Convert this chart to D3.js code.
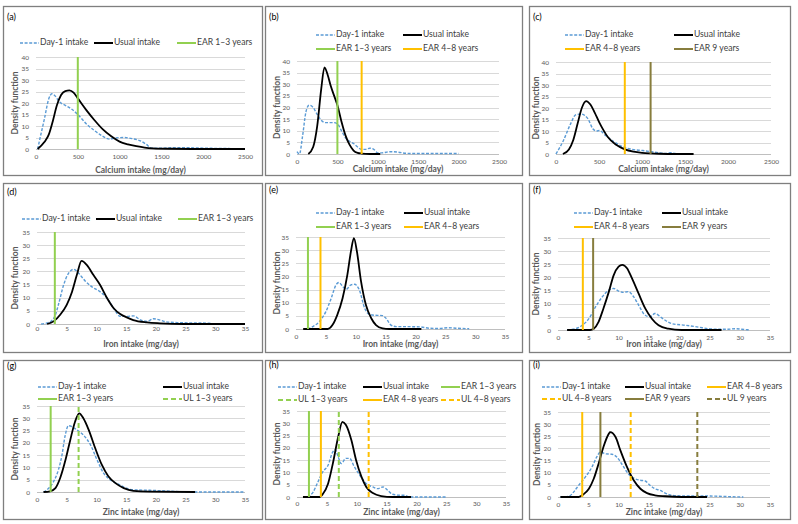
<!DOCTYPE html>
<html><head><meta charset="utf-8">
<script src="https://cdn.jsdelivr.net/npm/d3@7"></script>
<style>
html,body{margin:0;padding:0;background:#fff;}
svg{display:block;font-family:Lato,"Open Sans",sans-serif;}
</style></head>
<body><svg id="c" width="798" height="524"></svg>
<script>
// ---------- tick labels ----------
const calciumTicks = [0, 500, 1000, 1500, 2000, 2500];
const mgTicks = [0, 5, 10, 15, 20, 25, 30, 35];
const density40Ticks = [0, 5, 10, 15, 20, 25, 30, 35, 40];
const density35Ticks = [0, 5, 10, 15, 20, 25, 30, 35];

// ---------- (a) calcium ----------
const aDay1 = [[20,0],[50,5],[100,13],[150,21.5],[190,24],[230,23],[280,20.5],[350,19],[420,17.5],[500,15],[600,11],[700,8],[800,5.5],[880,4.3],[950,4.8],[1050,5],[1150,4.5],[1250,3.5],[1320,2],[1380,0.4],[1500,0.3],[1650,0.6],[1900,0.5],[2100,0.3],[2300,0.2],[2400,0]];
const aUsual = [[20,0],[100,3],[150,6],[200,12],[250,19],[300,23.5],[350,25.2],[400,25.5],[450,24.5],[500,22],[600,17],[700,12.5],[800,8.5],[900,5.5],[1000,3.2],[1100,2],[1200,1.2],[1300,0.6],[1400,0.3],[1600,0.1],[2000,0],[2500,0]];
// ---------- (b) ----------
const bDay1 = [[0,1],[30,0],[70,8],[110,18],[150,21],[200,20],[250,17],[300,14.5],[350,13.5],[400,13.5],[450,13.5],[500,13],[550,10],[600,7],[650,5.5],[700,4.5],[750,3],[800,2],[850,2],[900,2.5],[950,2],[1000,0.5],[1050,0.5],[1150,1],[1250,0.8],[1350,0.3],[1500,0.2],[1750,0.2],[2000,0.2]];
const bUsual = [[140,0],[200,3],[250,12],[300,28],[340,37.3],[380,34],[420,29],[460,25],[500,21],[550,14],[600,8],[650,4],[700,1.5],[750,0.5],[800,0.2],[900,0],[1030,0]];
// ---------- (c) ----------
const cDay1 = [[0,0],[88,6],[168,13],[228,17],[288,17.4],[368,15.5],[428,11],[468,10],[508,10.2],[568,8.3],[668,5.5],[768,3.3],[888,2],[1008,1.5],[1108,1],[1208,0.5],[1288,0.2],[1328,0.6],[1388,0.2],[1420,0]];
const cUsual = [[80,0],[150,2],[200,6],[250,13],[300,20],[350,23],[400,21.5],[450,18],[500,14],[550,10.5],[600,7.5],[700,4],[800,2],[900,1],[1000,0.5],[1100,0.25],[1200,0.1],[1400,0],[1600,0]];
// ---------- (d) iron ----------
const dDay1 = [[0.7,0],[1.7,0.4],[2.5,1.3],[3.1,3.5],[3.6,7.3],[4.5,15],[5.3,19.3],[6.2,20.8],[7,19.3],[8.1,16.4],[9.2,14.2],[10.6,12.3],[11.8,9.8],[12.9,6],[14,2.9],[15.1,2.9],[16.2,3.1],[17.4,1.6],[18.5,1],[19.6,2],[20.7,1.5],[21.8,0.8],[24,0.5],[26.3,0.4],[29,0.3],[29.7,0]];
const dUsual = [[1.7,0],[2.8,1],[3.9,3.5],[5,7.3],[5.9,12.3],[6.7,18.6],[7.5,24],[8.4,22.4],[9.5,18.6],[10.6,14.9],[11.8,9.8],[12.9,6],[14,3.8],[15.1,2.5],[16.2,1.5],[18.5,0.6],[20.7,0.25],[24.6,0],[35,0]];
// ---------- (e) ----------
const eDay1 = [[1.95,0],[2.8,0.9],[3.9,2.8],[5,6.6],[5.9,11.7],[6.7,16.8],[7.2,17.7],[7.8,16.2],[8.4,15.1],[9.2,16.8],[9.8,17],[10.6,14.9],[11.5,7.9],[12,6],[12.8,5.3],[14.5,5.1],[15.1,4],[15.9,1.5],[16.8,0.9],[18.4,0.9],[20.7,0.8],[22.3,0.3],[24,0.2],[25.4,0.5],[26.8,0.3],[29,0.1]];
const eUsual = [[1.2,0],[5.3,0],[6.1,1.5],[6.9,5.3],[7.8,11.7],[8.6,20.6],[9.2,29.5],[9.7,34.6],[10.2,29.5],[10.9,18],[11.7,9.2],[12.6,4.1],[13.4,1.5],[14.5,0.25],[15.6,0],[21,0]];
// ---------- (f) ----------
const fDay1 = [[1.5,0],[2.9,0.5],[4,1.8],[5.1,4.3],[6.2,8.8],[7.3,12.6],[8.4,15.2],[9.2,15.8],[10,14.8],[10.8,14.3],[11.6,14.6],[12.5,12.6],[13.3,9.5],[14.4,5.6],[15.2,5],[16,6.3],[16.9,5],[17.7,3.7],[18.8,2.4],[21,1.8],[23.2,1.1],[24.8,0.5],[26.5,0.3],[28.1,0.3],[29.2,0.5],[30.3,0.3],[31.7,0]];
const fUsual = [[1.5,0],[5.3,0],[5.9,0.5],[6.7,3.1],[7.5,8.2],[8.4,14.6],[9.2,20.9],[10,24.1],[10.6,24.8],[11.4,23.5],[12.2,19.7],[13.3,13.9],[14.4,8.2],[15.5,4.3],[16.6,1.8],[18.2,0.5],[20.4,0],[27,0]];
// ---------- (g) zinc ----------
const gDay1 = [[1.1,0],[2,1.6],[2.8,4.3],[3.6,9],[4.2,15],[4.7,22.5],[5.3,27],[6.7,25.3],[7.8,23.2],[9,19.2],[10.1,13.1],[11.2,7.7],[12.3,5],[13.4,3.6],[14.6,2],[16.2,0.9],[19,0.7],[21.8,0.4],[24.6,0.1],[26.6,0],[35,0]];
const gUsual = [[1.1,0],[2.2,0.3],[3.1,1.6],[3.9,5.7],[4.8,13.1],[5.6,21.2],[6.4,28.6],[7.1,32],[7.8,30],[8.7,25.3],[9.8,17.8],[10.9,11.1],[12,6.4],[13.2,3.6],[14.6,1.6],[16.2,0.5],[19,0.15],[26.6,0]];
// ---------- (h) ----------
const hDay1 = [[1.8,0],[2.7,2],[3.5,6.1],[4.3,10.2],[5.2,12.9],[6,18.4],[6.4,19.3],[6.9,16.3],[7.4,13.6],[8.2,15.7],[8.8,15.7],[9.6,12.3],[10.5,8.9],[11.6,5.4],[12.7,4.1],[13.5,3.4],[14.4,4.1],[15.2,2.7],[16,1.1],[17.2,0.7],[18,0.7],[18.8,0],[20.5,0],[25,0]];
const hUsual = [[1,0],[3.8,0],[4.3,1.1],[5.2,5.4],[6,13.6],[6.9,24.5],[7.6,30.6],[8.2,29.3],[9.1,23.2],[9.9,15],[10.8,8.2],[11.6,4.1],[12.7,1.6],[14.1,0.4],[16,0],[19.1,0]];
// ---------- (i) ----------
const iDay1 = [[0.4,0],[1.8,0.3],[2.6,2.1],[3.4,4.8],[4.5,8.2],[5.6,12.3],[6.4,16.5],[7,18.5],[7.8,17.8],[8.9,17.6],[9.7,16.5],[10.5,13.7],[11.6,9.6],[12.7,7.5],[13.6,6.9],[14.4,6.6],[15.2,4.8],[16,3.4],[16.9,2.7],[17.7,1.6],[18.8,0.7],[21,0.4],[23.2,0.4],[24.8,0.4],[26.5,0.3],[28.7,0.1],[30.6,0]];
const iUsual = [[0.4,0],[3.4,0],[4.2,1.1],[5.1,3.4],[5.9,7.5],[6.7,13.7],[7.5,20.6],[8.4,26.1],[8.6,26.7],[9.5,24.7],[10.3,19.2],[11.4,12.3],[12.5,6.9],[13.6,3.4],[14.7,1.6],[16,0.7],[17.7,0.3],[20.4,0],[24.6,0]];

// ---------- reference lines (value per panel) ----------
const refsA = [["ear13", 500]];
const refsB = [["ear13", 500], ["ear48", 800]];
const refsC = [["ear48", 800], ["ear9", 1100]];
const refsD = [["ear13", 3]];
const refsE = [["ear13", 2], ["ear48", 4.1]];
const refsF = [["ear48", 4.1], ["ear9", 5.8]];
const refsG = [["ear13", 2.3], ["ul13", 7]];
const refsH = [["ear13", 2], ["ul13", 7], ["ear48", 4], ["ul48", 12]];
const refsI = [["ear48", 4], ["ear9", 7], ["ul48", 12], ["ul9", 23]];

const seriesNames = {day1: "Day-1 intake", usual: "Usual intake", ear13: "EAR 1–3 years", ul13: "UL 1–3 years",
  ear48: "EAR 4–8 years", ul48: "UL 4–8 years", ear9: "EAR 9 years", ul9: "UL 9 years"};

// ---------- styles ----------
const styles = {
  day1: {stroke: "#5b9bd5", width: 1.4, dash: "3,1.6"},
  usual: {stroke: "#000000", width: 1.8, dash: null},
  ear13: {stroke: "#92d050", width: 2, dash: null},
  ul13: {stroke: "#92d050", width: 2, dash: "5,3"},
  ear48: {stroke: "#ffc000", width: 2, dash: null},
  ul48: {stroke: "#ffc000", width: 2, dash: "5,3"},
  ear9: {stroke: "#877d3d", width: 2, dash: null},
  ul9: {stroke: "#877d3d", width: 2, dash: "5,3"}
};

// ---------- layout ----------
const panels = [
  {label:"(a)", box:[3,6,262,175], lab:[7,18], px:[36,245], py:[149,57], xTicks:calciumTicks, yTicks:density40Ticks, xTitle:"Calcium intake (mg/day)", xTickY:158, xTitleY:171, yTitleX:16,
   day1:aDay1, usual:aUsual, refs:refsA, legend:[[["day1",20],["usual",94],["ear13",177]]], legY:[43]},
  {label:"(b)", box:[265,6,522,175], lab:[269,18], px:[297,499], py:[154,61], xTicks:calciumTicks, yTicks:density40Ticks, xTitle:"Calcium intake (mg/day)", xTickY:163, xTitleY:170, yTitleX:278,
   day1:bDay1, usual:bUsual, refs:refsB, legend:[[["day1",316],["usual",403]],[["ear13",316],["ear48",403]]], legY:[35,49]},
  {label:"(c)", box:[529,6,790,175], lab:[533,18], px:[556,771], py:[154,62], xTicks:calciumTicks, yTicks:density40Ticks, xTitle:"Calcium intake (mg/day)", xTickY:163, xTitleY:170, yTitleX:537,
   day1:cDay1, usual:cUsual, refs:refsC, legend:[[["day1",565],["usual",674]],[["ear48",565],["ear9",674]]], legY:[35,49]},
  {label:"(d)", box:[3,183,262,352], lab:[7,193], px:[37,245], py:[324,232], xTicks:mgTicks, yTicks:density35Ticks, xTitle:"Iron intake (mg/day)", xTickY:330, xTitleY:345, yTitleX:16,
   day1:dDay1, usual:dUsual, refs:refsD, legend:[[["day1",22],["usual",96],["ear13",178]]], legY:[219]},
  {label:"(e)", box:[265,183,522,352], lab:[269,191], px:[296,505], py:[329,237], xTicks:mgTicks, yTicks:density35Ticks, xTitle:"Iron intake (mg/day)", xTickY:338, xTitleY:345, yTitleX:278,
   day1:eDay1, usual:eUsual, refs:refsE, legend:[[["day1",316],["usual",404]],[["ear13",316],["ear48",404]]], legY:[213,227]},
  {label:"(f)", box:[529,183,790,352], lab:[533,191], px:[558,770], py:[330,238], xTicks:mgTicks, yTicks:density35Ticks, xTitle:"Iron intake (mg/day)", xTickY:339, xTitleY:345, yTitleX:537,
   day1:fDay1, usual:fUsual, refs:refsF, legend:[[["day1",574],["usual",662]],[["ear48",574],["ear9",662]]], legY:[213,227]},
  {label:"(g)", box:[3,360,262,519], lab:[7,367], px:[37,245], py:[492,406], xTicks:mgTicks, yTicks:density35Ticks, xTitle:"Zinc intake (mg/day)", xTickY:501, xTitleY:513, yTitleX:16,
   day1:gDay1, usual:gUsual, refs:refsG, legend:[[["day1",38],["usual",163]],[["ear13",38],["ul13",163]]], legY:[387,399]},
  {label:"(h)", box:[265,360,522,519], lab:[269,366], px:[297,506], py:[497,411], xTicks:mgTicks, yTicks:density35Ticks, xTitle:"Zinc intake (mg/day)", xTickY:505, xTitleY:513, yTitleX:278,
   day1:hDay1, usual:hUsual, refs:refsH, legend:[[["day1",278],["usual",363],["ear13",441]],[["ul13",278],["ear48",363],["ul48",441]]], legY:[387,400]},
  {label:"(i)", box:[529,360,790,519], lab:[533,366], px:[558,770], py:[497,412], xTicks:mgTicks, yTicks:density35Ticks, xTitle:"Zinc intake (mg/day)", xTickY:506, xTitleY:513, yTitleX:538,
   day1:iDay1, usual:iUsual, refs:refsI, legend:[[["day1",542],["usual",625],["ear48",707]],[["ul48",542],["ear9",625],["ul9",707]]], legY:[387,399]}
];

const svg = d3.select("#c");

panels.forEach(p => {
  const g = svg.append("g");
  const [bx0, by0, bx1, by1] = p.box;
  g.append("rect").attr("x", bx0 + 0.5).attr("y", by0 + 0.5).attr("width", bx1 - bx0).attr("height", by1 - by0)
    .attr("fill", "#fff").attr("stroke", "#7f7f7f").attr("stroke-width", 1.3);
  g.append("text").attr("x", p.lab[0]).attr("y", p.lab[1]).attr("dominant-baseline", "middle")
    .attr("font-size", 9).attr("fill", "#000").text(p.label);

  const xMax = d3.max(p.xTicks), yMax = d3.max(p.yTicks);
  const x = d3.scaleLinear().domain([0, xMax]).range(p.px);
  const y = d3.scaleLinear().domain([0, yMax]).range(p.py);

  // gridlines
  g.append("g").selectAll("line").data(p.yTicks).join("line")
    .attr("x1", p.px[0]).attr("x2", p.px[1])
    .attr("y1", d => Math.round(y(d)) + 0.5).attr("y2", d => Math.round(y(d)) + 0.5)
    .attr("stroke", d => d === 0 ? "#bfbfbf" : "#d9d9d9").attr("stroke-width", 1);

  // y ticks
  const ya = d3.axisLeft(y).tickValues(p.yTicks).tickFormat(d3.format("d")).tickSize(0).tickPadding(7);
  const yg = g.append("g").attr("transform", `translate(${p.px[0]},0)`).call(ya);
  yg.select(".domain").remove();
  yg.selectAll("text").attr("font-size", 6.5).attr("fill", "#595959").attr("font-family", "Lato,sans-serif");

  // x ticks
  const xa = d3.axisBottom(x).tickValues(p.xTicks).tickFormat(d3.format("d")).tickSize(0).tickPadding(0);
  const xg = g.append("g").attr("transform", `translate(0,${p.xTickY - 4})`).call(xa);
  xg.select(".domain").remove();
  xg.selectAll("text").attr("font-size", 6.5).attr("fill", "#595959").attr("font-family", "Lato,sans-serif").attr("dy", "0.71em");

  // titles
  g.append("text").attr("x", (p.px[0] + p.px[1]) / 2).attr("y", p.xTitleY).attr("text-anchor", "middle")
    .attr("dominant-baseline", "middle").attr("font-size", 8.5).attr("font-weight", "bold").attr("fill", "#595959").text(p.xTitle);
  g.append("text").attr("transform", `translate(${p.yTitleX},${(p.py[0] + p.py[1]) / 2}) rotate(-90)`)
    .attr("text-anchor", "middle").attr("dominant-baseline", "middle").attr("font-size", 8.5).attr("font-weight", "bold")
    .attr("fill", "#595959").text("Density function");

  // curves
  const line = d3.line().x(d => x(d[0])).y(d => y(d[1])).curve(d3.curveMonotoneX);
  [["day1", p.day1], ["usual", p.usual]].forEach(([k, data]) => {
    const s = styles[k];
    g.append("path").datum(data).attr("d", line).attr("fill", "none")
      .attr("stroke", s.stroke).attr("stroke-width", s.width).attr("stroke-dasharray", s.dash)
      .attr("stroke-linejoin", "round");
  });

  // reference lines
  p.refs.forEach(([k, v]) => {
    const s = styles[k];
    g.append("line").attr("x1", x(v)).attr("x2", x(v)).attr("y1", y(0)).attr("y2", y(yMax))
      .attr("stroke", s.stroke).attr("stroke-width", s.width).attr("stroke-dasharray", s.dash);
  });

  // legend
  p.legend.forEach((row, ri) => {
    const ly = p.legY[ri];
    row.forEach(([k, lx]) => {
      const s = styles[k];
      g.append("line").attr("x1", lx).attr("x2", lx + 19).attr("y1", ly).attr("y2", ly)
        .attr("stroke", s.stroke).attr("stroke-width", k === "day1" ? 1.5 : 2).attr("stroke-dasharray", s.dash);
      g.append("text").attr("x", lx + 20).attr("y", ly).attr("dominant-baseline", "middle")
        .attr("font-size", 8.6).attr("fill", "#404040").text(seriesNames[k]);
    });
  });
});
</script></body></html>
